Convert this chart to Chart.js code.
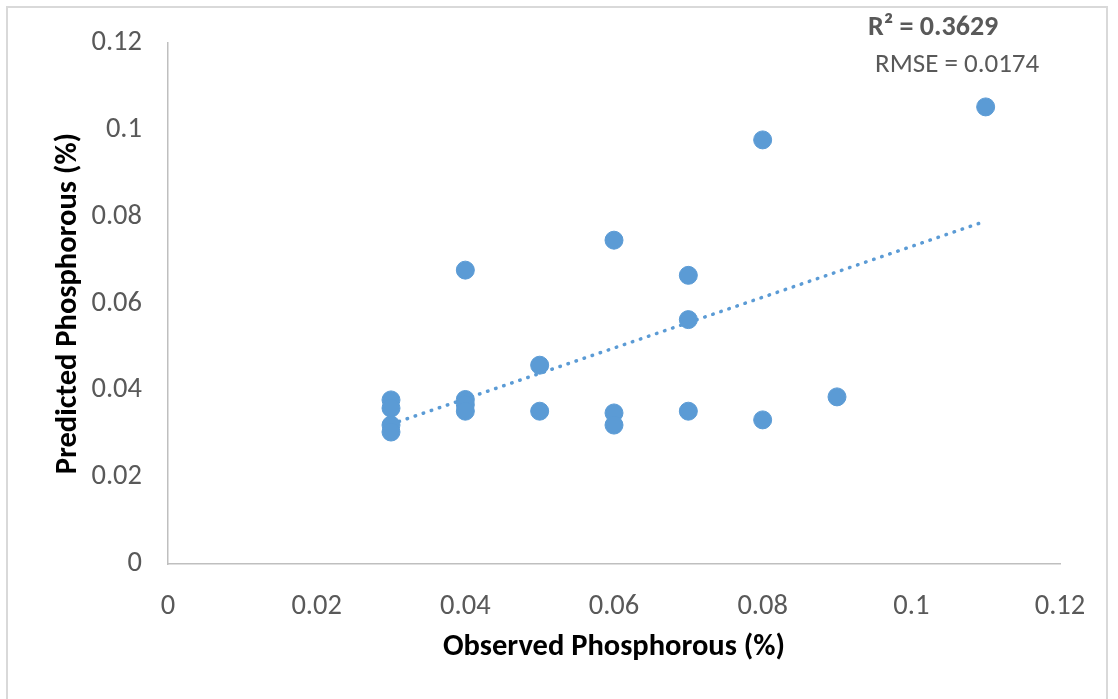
<!DOCTYPE html>
<html>
<head>
<meta charset="utf-8">
<script src="https://cdn.jsdelivr.net/npm/chart.js@4"></script>
<style>
  body { margin: 0; background: #fff; }
  #wrap { position: relative; width: 1118px; height: 699px; }
  #frame { position: absolute; left: 6px; top: 6px; width: 1102px; height: 700px; border: 2px solid #d9d9d9; box-sizing: border-box; }
  canvas { position: absolute; left: 0; top: 0; }
</style>
</head>
<body>
<div id="wrap">
  <div id="frame"></div>
  <canvas id="chart" width="1118" height="699"></canvas>
</div>
<script>
// observed vs predicted phosphorous (%)
const observed = [0.03, 0.03, 0.03, 0.03, 0.04, 0.04, 0.04, 0.04, 0.05, 0.05,
                  0.06, 0.06, 0.06, 0.07, 0.07, 0.07, 0.08, 0.08, 0.09, 0.11];
const predicted = [0.0378, 0.0359, 0.0320, 0.0304, 0.0677, 0.0379, 0.0367, 0.0352, 0.0458, 0.0352,
                   0.0746, 0.0348, 0.0320, 0.0665, 0.0563, 0.0352, 0.0977, 0.0332, 0.0385, 0.1053];

// linear trendline end points (as drawn)
const trendX = [0.03, 0.11];
const trendY = [0.0322, 0.0790];

const r2Label = 'R² = 0.3629';
const rmseLabel = 'RMSE = 0.0174';

const blue = '#5b9bd5';
const font = "Calibri, Carlito, 'Open Sans', sans-serif";

const points = observed.map((x, i) => ({x: x, y: predicted[i]}));
const trend = trendX.map((x, i) => ({x: x, y: trendY[i]}));

const statsText = {
  id: 'statsText',
  afterDraw(chart) {
    const c = chart.ctx;
    c.save();
    c.textBaseline = 'middle';
    c.fillStyle = '#595959';
    c.font = 'bold 28px ' + font;
    c.fillText(r2Label, 868, 28);
    c.font = '27px ' + font;
    c.fillText(rmseLabel, 875, 65);
    c.restore();
  }
};

new Chart(document.getElementById('chart'), {
  type: 'scatter',
  data: {
    datasets: [{
      data: points,
      backgroundColor: blue,
      borderColor: blue,
      pointRadius: 9,
      pointHoverRadius: 9,
      order: 1
    }, {
      type: 'line',
      data: trend,
      borderColor: blue,
      borderWidth: 3.5,
      borderDash: [0.5, 8],
      borderCapStyle: 'round',
      pointRadius: 0,
      fill: false,
      order: 2
    }]
  },
  options: {
    responsive: false,
    animation: false,
    layout: { padding: { left: 0, top: 36, right: 58, bottom: 0 } },
    plugins: { legend: { display: false }, tooltip: { enabled: false } },
    scales: {
      x: {
        type: 'linear',
        min: 0,
        max: 0.12,
        afterFit: (s) => { s.height = 135; },
        grid: { display: false, drawTicks: false },
        border: { color: '#bfbfbf', width: 1.5 },
        ticks: {
          stepSize: 0.02,
          padding: 26,
          color: '#595959',
          font: { family: font, size: 28.5 },
          maxRotation: 0,
          callback: (v) => +v.toFixed(2)
        },
        title: {
          display: true,
          text: 'Observed Phosphorous (%)',
          color: '#000',
          font: { family: font, size: 30.5, weight: 'bold' },
          padding: { bottom: 33 }
        }
      },
      y: {
        type: 'linear',
        min: 0,
        max: 0.12,
        afterFit: (s) => { s.width = 168; },
        grid: { display: false, drawTicks: false },
        border: { color: '#bfbfbf', width: 1.5 },
        ticks: {
          stepSize: 0.02,
          padding: 26,
          color: '#595959',
          font: { family: font, size: 28.5 },
          callback: (v) => +v.toFixed(2)
        },
        title: {
          display: true,
          text: 'Predicted Phosphorous (%)',
          color: '#000',
          font: { family: font, size: 30.5, weight: 'bold' },
          padding: { top: 50 }
        }
      }
    }
  },
  plugins: [statsText]
});
</script>
</body>
</html>
